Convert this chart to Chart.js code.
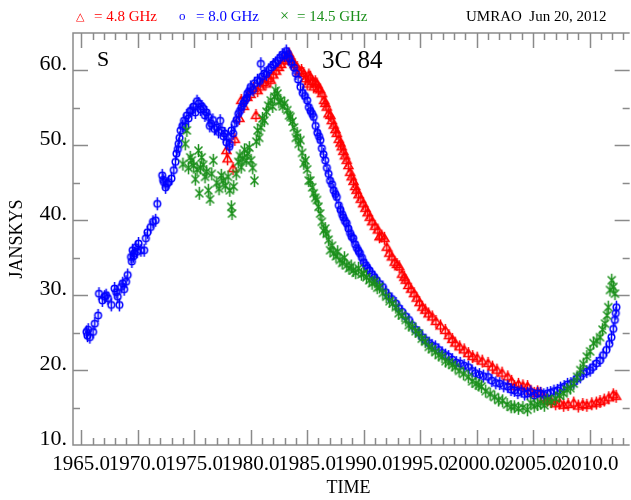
<!DOCTYPE html>
<html>
<head>
<meta charset="utf-8">
<title>3C 84 UMRAO</title>
<script src="https://cdn.jsdelivr.net/npm/chart.js@4.4.1/dist/chart.umd.min.js"></script>
<style>
  html, body { margin: 0; padding: 0; background: #fff; }
  #wrap { position: relative; width: 631px; height: 500px; overflow: hidden;
          font-family: 'Liberation Serif', 'DejaVu Serif', serif; }
  #plot { position: absolute; left: 0; top: 0; }
  .lbl { position: absolute; white-space: nowrap; line-height: 1; }
</style>
</head>
<body>
<div id="wrap">
  <canvas id="plot" width="631" height="500"></canvas>
  <span class="lbl" style="left:76px;top:11px;font-size:11px;color:#f00">△</span>
  <span class="lbl" style="left:94px;top:9px;font-size:15px;color:#f00">= 4.8 GHz</span>
  <span class="lbl" style="left:179px;top:9px;font-size:13px;color:#00f">o</span>
  <span class="lbl" style="left:196px;top:9px;font-size:15px;color:#00f">= 8.0 GHz</span>
  <span class="lbl" style="left:280px;top:8px;font-size:16px;color:#1a8f1a">×</span>
  <span class="lbl" style="left:297px;top:9px;font-size:15px;color:#1a8f1a">= 14.5 GHz</span>
  <span class="lbl" style="left:466px;top:9px;font-size:15px;color:#000">UMRAO&nbsp; Jun 20, 2012</span>
  <span class="lbl" style="left:97px;top:48px;font-size:22px;color:#000">S</span>
  <span class="lbl" style="left:322px;top:47px;font-size:25px;color:#000">3C 84</span>
</div>
<script>
// ── Data (year, Jy) ─────────────────────────────────────────────
const xTicks = [1965, 1970, 1975, 1980, 1985, 1990, 1995, 2000, 2005, 2010];
const yTicks = [10, 20, 30, 40, 50, 60];

const flux48 = [
  [1977.85,49.3],[1977.95,48.2],[1978.44,46.9],[1978.60,50.8],[1979.00,53.6],[1979.16,56.0],
  [1979.40,55.2],[1979.70,56.4],[1980.00,56.8],[1980.25,57.6],[1980.47,54.0],[1980.62,57.3],
  [1980.85,57.8],[1981.10,58.4],[1981.35,58.2],[1981.55,58.9],[1981.78,58.7],[1982.00,59.4],
  [1982.25,59.9],[1982.50,60.4],[1982.70,60.8],[1982.95,61.3],[1983.10,61.6],[1983.24,61.8],
  [1983.40,62.2],[1983.53,61.8],[1983.70,61.2],[1983.90,60.8],[1984.11,60.4],[1984.30,59.8],
  [1984.50,60.0],[1984.70,59.6],[1984.85,58.9],[1985.00,58.2],[1985.15,59.4],[1985.28,59.1],
  [1985.45,58.5],[1985.58,57.8],[1985.72,58.5],[1985.87,58.2],[1986.00,57.6],[1986.15,57.4],
  [1986.31,56.9],[1986.50,56.0],[1986.60,55.6],[1986.74,55.1],[1986.90,54.2],[1987.05,54.0],
  [1987.18,53.3],[1987.35,52.7],[1987.50,52.1],[1987.62,51.6],[1987.80,50.8],[1987.95,50.3],
  [1988.06,49.8],[1988.20,49.2],[1988.35,48.6],[1988.50,48.0],[1988.65,47.3],[1988.80,46.4],
  [1988.94,45.8],[1989.10,45.2],[1989.25,44.5],[1989.37,44.0],[1989.55,43.4],[1989.75,42.8],
  [1989.96,42.2],[1990.15,41.6],[1990.35,41.0],[1990.54,40.4],[1990.75,39.8],[1991.00,39.2],
  [1991.26,38.7],[1991.40,37.8],[1991.60,37.9],[1991.84,37.6],[1992.05,36.4],[1992.27,35.6],
  [1992.50,35.1],[1992.75,34.4],[1992.95,34.1],[1993.15,33.8],[1993.40,32.8],[1993.60,32.4],
  [1993.73,32.0],[1993.95,31.3],[1994.20,30.8],[1994.46,30.2],[1994.70,29.6],[1994.95,29.0],
  [1995.19,28.4],[1995.45,28.0],[1995.75,27.5],[1996.07,27.1],[1996.40,26.5],[1996.80,25.9],
  [1997.23,25.3],[1997.55,24.6],[1997.85,24.1],[1998.10,23.6],[1998.50,23.1],[1998.90,22.7],
  [1999.27,22.2],[1999.65,21.8],[2000.05,21.6],[2000.50,21.2],[2001.01,20.9],[2001.40,20.4],
  [2001.80,20.0],[2002.25,19.6],[2002.76,19.1],[2003.10,18.5],[2003.34,17.8],[2003.70,18.1],
  [2004.10,17.9],[2004.51,17.8],[2004.80,17.2],[2005.10,16.9],[2005.40,17.1],[2005.67,16.9],
  [2006.00,16.3],[2006.26,16.0],[2006.60,15.8],[2007.00,15.5],[2007.35,15.6],[2007.71,15.3],
  [2008.10,15.4],[2008.60,15.6],[2009.00,15.2],[2009.40,15.4],[2009.76,15.3],[2010.20,15.5],
  [2010.60,15.6],[2010.93,15.8],[2011.30,16.0],[2011.70,16.3],[2012.10,16.7],[2012.35,16.5]
];

const flux80 = [
  [1965.47,25.1],[1965.55,24.6],[1965.62,25.4],[1965.76,24.4],[1966.05,25.1],[1966.20,26.2],
  [1966.49,27.3],[1966.57,30.2],[1966.87,29.3],[1967.07,29.8],[1967.20,30.0],[1967.36,29.6],
  [1967.66,28.7],[1967.95,30.9],[1968.09,30.4],[1968.23,29.8],[1968.38,28.7],[1968.53,31.1],
  [1968.67,31.6],[1968.80,30.8],[1968.97,31.8],[1969.11,32.7],[1969.41,35.1],[1969.48,34.5],
  [1969.55,36.0],[1969.62,35.2],[1969.69,35.6],[1969.84,36.4],[1969.95,35.8],[1970.07,36.9],
  [1970.28,36.0],[1970.57,36.0],[1970.72,37.6],[1970.86,38.4],[1971.15,39.1],[1971.35,39.8],
  [1971.59,40.0],[1971.73,42.2],[1972.17,46.0],[1972.25,45.4],[1972.32,45.1],[1972.47,44.4],
  [1972.60,44.9],[1972.75,45.1],[1972.99,45.6],[1973.19,46.7],[1973.34,47.8],[1973.43,48.9],
  [1973.55,49.5],[1973.62,50.2],[1973.70,51.0],[1973.80,52.0],[1973.95,52.6],[1974.10,53.3],
  [1974.22,52.5],[1974.35,54.0],[1974.50,53.6],[1974.65,54.6],[1974.80,54.7],[1974.95,55.2],
  [1975.10,54.4],[1975.25,55.9],[1975.40,55.6],[1975.55,54.8],[1975.68,55.2],[1975.80,54.9],
  [1975.95,54.0],[1976.10,54.4],[1976.25,53.8],[1976.38,52.6],[1976.50,52.9],[1976.65,53.4],
  [1976.80,52.2],[1977.00,52.4],[1977.15,51.8],[1977.30,53.3],[1977.45,52.0],[1977.60,51.2],
  [1977.70,51.6],[1977.85,50.4],[1978.00,51.1],[1978.10,49.8],[1978.15,50.2],[1978.30,52.0],
  [1978.45,51.6],[1978.60,52.9],[1978.75,53.4],[1978.90,54.2],[1979.05,54.6],[1979.20,55.1],
  [1979.35,55.6],[1979.50,56.0],[1979.62,56.3],[1979.70,56.9],[1979.85,57.2],[1980.00,57.8],
  [1980.20,57.4],[1980.35,58.3],[1980.60,58.7],[1980.80,58.6],[1980.90,60.9],[1981.00,59.2],
  [1981.20,59.6],[1981.40,59.5],[1981.60,60.1],[1981.80,60.4],[1982.00,60.8],[1982.20,61.0],
  [1982.40,61.3],[1982.60,61.7],[1982.80,62.1],[1983.00,62.0],[1983.15,62.6],[1983.30,62.2],
  [1983.45,61.6],[1983.60,61.0],[1983.83,60.4],[1984.00,59.6],[1984.20,58.8],[1984.41,57.8],
  [1984.60,57.0],[1984.80,56.6],[1985.00,56.0],[1985.15,55.1],[1985.30,54.6],[1985.45,54.2],
  [1985.58,53.8],[1985.75,52.6],[1985.90,51.7],[1986.05,51.2],[1986.17,50.7],[1986.30,49.6],
  [1986.45,48.8],[1986.60,48.0],[1986.75,47.0],[1986.90,46.2],[1987.03,45.3],[1987.20,44.8],
  [1987.35,44.0],[1987.50,43.5],[1987.62,43.1],[1987.80,42.0],[1987.95,41.4],[1988.10,40.8],
  [1988.20,40.4],[1988.35,39.9],[1988.50,39.6],[1988.65,38.9],[1988.80,38.3],[1988.94,37.8],
  [1989.08,37.6],[1989.25,36.8],[1989.40,36.3],[1989.55,35.9],[1989.67,35.6],[1989.85,35.0],
  [1990.00,34.4],[1990.20,34.0],[1990.35,33.6],[1990.52,33.3],[1990.75,32.8],[1990.95,32.4],
  [1991.15,32.0],[1991.40,31.5],[1991.70,31.1],[1991.95,30.4],[1992.20,29.9],[1992.50,29.5],
  [1992.86,28.9],[1993.10,28.3],[1993.40,27.8],[1993.70,27.2],[1994.02,26.7],[1994.30,26.0],
  [1994.60,25.4],[1994.90,25.0],[1995.19,24.4],[1995.50,24.0],[1995.80,23.6],[1996.05,23.3],
  [1996.35,23.1],[1996.65,22.7],[1996.95,22.3],[1997.25,22.0],[1997.52,21.8],[1997.85,21.4],
  [1998.20,21.0],[1998.55,20.9],[1998.90,20.6],[1999.27,20.4],[1999.60,19.9],[1999.90,19.6],
  [2000.25,19.4],[2000.60,19.2],[2001.01,19.1],[2001.35,18.6],[2001.70,18.3],[2002.05,18.2],
  [2002.40,17.9],[2002.76,17.8],[2003.05,17.4],[2003.34,17.3],[2003.65,17.0],[2003.95,17.2],
  [2004.25,16.8],[2004.51,16.9],[2004.80,17.1],[2005.10,16.6],[2005.40,16.9],[2005.67,16.9],
  [2005.95,16.7],[2006.26,16.9],[2006.55,17.0],[2006.85,17.2],[2007.15,17.3],[2007.43,17.6],
  [2007.75,17.8],[2008.05,18.1],[2008.35,18.2],[2008.60,18.4],[2008.90,18.9],[2009.18,19.1],
  [2009.45,19.6],[2009.75,19.8],[2010.05,20.0],[2010.30,20.4],[2010.60,20.9],[2010.93,21.3],
  [2011.20,22.0],[2011.50,22.7],[2011.75,23.5],[2011.94,24.4],[2012.10,25.5],[2012.24,26.7],
  [2012.32,27.6],[2012.38,28.4]
];

const flux145 = [
  [1974.00,47.5],[1974.21,50.2],[1974.35,52.0],[1974.50,47.0],[1974.65,48.4],[1974.79,48.0],
  [1974.95,47.3],[1975.10,45.5],[1975.25,46.8],[1975.38,49.3],[1975.45,43.6],[1975.55,47.0],
  [1975.66,48.4],[1975.80,47.4],[1975.96,45.8],[1976.10,46.5],[1976.25,44.0],[1976.40,42.8],
  [1976.55,46.2],[1976.69,48.0],[1977.00,45.0],[1977.20,44.2],[1977.40,46.0],[1977.56,45.3],
  [1977.75,44.6],[1978.00,45.8],[1978.15,44.0],[1978.29,41.8],[1978.35,40.9],[1978.50,44.5],
  [1978.72,46.2],[1978.90,47.8],[1979.05,48.6],[1979.16,47.1],[1979.30,48.2],[1979.45,49.4],
  [1979.60,48.0],[1979.74,48.9],[1979.88,49.7],[1980.03,48.0],[1980.18,47.0],[1980.33,45.3],
  [1980.50,50.5],[1980.62,52.0],[1980.75,51.0],[1980.91,52.4],[1981.05,53.6],[1981.21,53.3],
  [1981.40,54.5],[1981.55,55.3],[1981.78,56.0],[1981.95,55.2],[1982.10,56.5],[1982.22,57.3],
  [1982.37,56.9],[1982.50,55.8],[1982.66,56.0],[1982.85,55.2],[1983.00,55.6],[1983.24,54.7],
  [1983.40,54.0],[1983.53,53.8],[1983.70,53.2],[1983.83,52.4],[1984.00,51.0],[1984.11,51.6],
  [1984.25,50.2],[1984.41,50.7],[1984.55,49.0],[1984.70,47.6],[1984.85,48.0],[1985.00,46.8],
  [1985.14,45.3],[1985.28,45.3],[1985.45,44.4],[1985.58,43.6],[1985.72,43.0],[1985.87,42.7],
  [1986.00,41.8],[1986.15,40.9],[1986.30,39.8],[1986.45,38.6],[1986.60,38.9],[1986.74,38.2],
  [1986.90,37.4],[1987.03,36.0],[1987.20,36.6],[1987.35,35.6],[1987.55,35.2],[1987.70,35.8],
  [1987.90,34.7],[1988.10,34.3],[1988.30,35.0],[1988.50,34.0],[1988.70,33.6],[1988.90,33.9],
  [1989.08,33.3],[1989.30,33.0],[1989.55,33.6],[1989.80,32.8],[1990.00,32.9],[1990.25,32.4],
  [1990.50,32.0],[1990.75,31.6],[1991.00,31.8],[1991.20,31.0],[1991.40,31.1],[1991.70,30.3],
  [1992.00,29.8],[1992.30,29.2],[1992.57,28.9],[1992.85,28.4],[1993.10,27.6],[1993.40,27.3],
  [1993.73,26.7],[1994.00,26.0],[1994.30,25.8],[1994.60,25.2],[1994.90,24.9],[1995.15,24.2],
  [1995.45,23.8],[1995.77,23.1],[1996.05,22.8],[1996.35,22.4],[1996.65,22.0],[1996.94,21.8],
  [1997.25,21.2],[1997.55,21.0],[1997.85,20.7],[1998.10,20.4],[1998.45,19.9],[1998.85,19.5],
  [1999.27,19.1],[1999.60,18.5],[1999.95,18.2],[2000.20,18.0],[2000.44,17.8],[2000.80,17.2],
  [2001.20,16.8],[2001.60,16.4],[2001.95,16.0],[2002.30,15.9],[2002.70,15.4],[2003.06,15.1],
  [2003.34,15.1],[2003.70,14.9],[2004.10,15.0],[2004.51,14.7],[2004.80,15.6],[2005.10,15.2],
  [2005.40,15.4],[2005.67,15.6],[2006.00,15.3],[2006.26,16.0],[2006.60,15.8],[2007.00,16.2],
  [2007.35,16.6],[2007.71,16.9],[2008.00,17.4],[2008.30,17.6],[2008.60,18.2],[2008.90,19.1],
  [2009.18,20.0],[2009.45,20.8],[2009.76,21.8],[2010.05,22.5],[2010.35,23.6],[2010.65,23.9],
  [2010.93,24.4],[2011.15,25.4],[2011.37,26.2],[2011.55,27.3],[2011.66,28.4],[2011.81,30.7],
  [2011.96,32.0],[2012.11,31.1],[2012.25,30.2]
];

// ── Axis range and frame ─────────────────────────────────────────
const X_MIN = 1964.27, X_MAX = 2013.05, X_FRAME = 2013.55;
const Y_MIN = 10, Y_MAX = 65;
const AXIS_GRAY = '#8a8a8a';
const SERIF = "'Liberation Serif', 'DejaVu Serif', serif";

// marker images: symbol with a short vertical error bar through it
function marker(color, kind) {
  const c = document.createElement('canvas');
  c.width = 13; c.height = 15;
  const g = c.getContext('2d');
  g.strokeStyle = color;
  g.lineWidth = 1.5;
  g.beginPath();
  g.moveTo(6.5, 1); g.lineTo(6.5, 14);
  if (kind === 'tri') {
    g.moveTo(6.5, 3); g.lineTo(11, 10.5); g.lineTo(2, 10.5); g.closePath();
  } else if (kind === 'circ') {
    g.moveTo(9.8, 7.5); g.arc(6.5, 7.5, 3.3, 0, Math.PI * 2);
  } else {
    g.moveTo(2.5, 3.5); g.lineTo(10.5, 11.5); g.moveTo(10.5, 3.5); g.lineTo(2.5, 11.5);
  }
  g.stroke();
  return c;
}

const toPts = arr => arr.map(p => ({ x: p[0], y: p[1] }));

// inward ticks on all four sides + box
const frame = {
  id: 'frame',
  beforeDatasetsDraw(chart) {
    const { ctx, scales: { x, y } } = chart;
    const left = x.getPixelForValue(X_MIN), right = x.getPixelForValue(X_FRAME);
    const top = y.getPixelForValue(Y_MAX), bottom = y.getPixelForValue(Y_MIN);
    ctx.save();
    ctx.strokeStyle = AXIS_GRAY;
    ctx.lineWidth = 1.5;
    ctx.beginPath();
    ctx.moveTo(right, top); ctx.lineTo(left, top); ctx.lineTo(left, bottom); ctx.lineTo(right, bottom);
    for (let yr = 1965; yr <= 2013; yr++) {
      const px = Math.round(x.getPixelForValue(yr)) + 0.5;
      const len = yr % 5 === 0 ? 15 : 7;
      ctx.moveTo(px, bottom); ctx.lineTo(px, bottom - len);
      ctx.moveTo(px, top); ctx.lineTo(px, top + len);
    }
    for (let v = 15; v < Y_MAX; v += 5) {
      const py = Math.round(y.getPixelForValue(v)) + 0.5;
      const len = v % 10 === 0 ? 15 : 7;
      ctx.moveTo(left, py); ctx.lineTo(left + len, py);
      ctx.moveTo(right, py); ctx.lineTo(right - len, py);
    }
    ctx.stroke();
    ctx.restore();
  }
};

new Chart(document.getElementById('plot'), {
  type: 'scatter',
  data: {
    datasets: [
      { label: '14.5 GHz', data: toPts(flux145), pointStyle: marker('#1a8f1a', 'x'), pointRadius: 6, order: 0 },
      { label: '8.0 GHz',  data: toPts(flux80),  pointStyle: marker('#0000ff', 'circ'), pointRadius: 6, order: 1 },
      { label: '4.8 GHz',  data: toPts(flux48),  pointStyle: marker('#ff0000', 'tri'), pointRadius: 6, order: 2 }
    ]
  },
  options: {
    responsive: false,
    animation: false,
    events: [],
    layout: { padding: { top: 33, right: 0, bottom: 0, left: 0 } },
    plugins: { legend: { display: false }, tooltip: { enabled: false } },
    scales: {
      x: {
        type: 'linear', min: X_MIN, max: X_MAX,
        afterBuildTicks: s => { s.ticks = xTicks.map(v => ({ value: v })); },
        afterFit: s => { s.height = 55; },
        grid: { display: false, drawTicks: false },
        border: { display: false },
        ticks: {
          autoSkip: false, maxRotation: 0, padding: 7, color: '#000',
          font: { family: SERIF, size: 21 },
          callback: v => v.toFixed(1)
        },
        title: { display: true, text: 'TIME', color: '#000', font: { family: SERIF, size: 18 }, padding: { top: 0, bottom: 1 } }
      },
      y: {
        min: Y_MIN, max: Y_MAX,
        afterBuildTicks: s => { s.ticks = yTicks.map(v => ({ value: v })); },
        afterFit: s => { s.width = 73; },
        grid: { display: false, drawTicks: false },
        border: { display: false },
        ticks: {
          padding: 6, color: '#000', labelOffset: -6,
          font: { family: SERIF, size: 22 },
          callback: v => v + '.'
        },
        title: { display: true, text: 'JANSKYS', color: '#000', font: { family: SERIF, size: 18 }, padding: { top: 6, bottom: 0 } }
      }
    }
  },
  plugins: [frame]
});
</script>
</body>
</html>
